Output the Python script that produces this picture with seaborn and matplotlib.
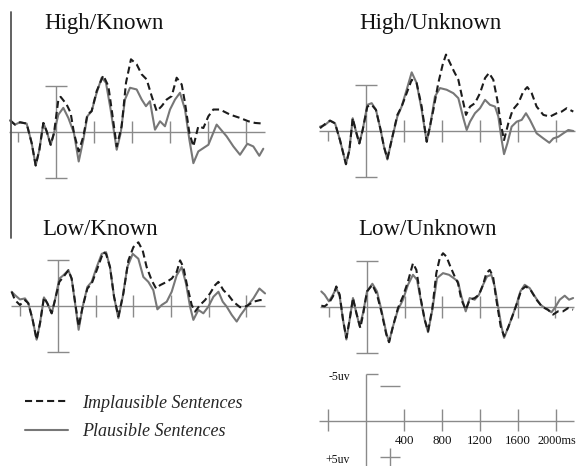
import numpy as np
import pandas as pd
import matplotlib
matplotlib.use("Agg")
import matplotlib.pyplot as plt
from matplotlib.lines import Line2D
from matplotlib.font_manager import FontProperties
import seaborn as sns

# ---------------- data (time in ms, amplitude in microvolts; negative plotted up) -------------
conditions = ["High/Known", "High/Unknown", "Low/Known", "Low/Unknown"]
series_labels = ["Implausible Sentences", "Plausible Sentences"]
scale_tick_labels = ["400", "800", "1200", "1600", "2000ms"]
scale_ticks_ms = [400, 800, 1200, 1600, 2000]

hk_pl_t = [-484, -432, -379, -309, -256, -214, -175, -133, -98, -56, -21, 25, 77, 130, 189, 239, 288, 330,
           375, 428, 481, 526, 575, 639, 681, 726, 779, 849, 902, 947, 989, 1042, 1095, 1147, 1200, 1253,
           1305, 1358, 1404, 1446, 1498, 1551, 1604, 1691, 1796, 1867, 1937, 2014, 2077, 2140, 2182]
hk_pl_v = [-1.27, -0.80, -1.05, -0.91, 1.20, 3.62, 1.92, -0.98, -0.07, 1.38, 0.11, -1.88, -2.61, -1.52,
           0.11, 3.19, 0.83, -1.70, -2.25, -4.24, -5.87, -5.33, -2.43, 1.92, 0.11, -3.51, -4.78, -4.60,
           -3.51, -2.79, -3.33, -0.25, -1.16, -0.62, -2.43, -3.51, -4.24, -2.43, 0.83, 3.37, 2.10, 1.74,
           1.38, -0.80, 0.47, 1.56, 2.46, 1.27, 1.56, 2.57, 1.81]
hk_im_t = [-484, -432, -379, -309, -256, -214, -175, -133, -98, -56, -21, 25, 49, 112, 154, 189, 239, 288,
           330, 375, 428, 498, 551, 586, 639, 691, 737, 789, 849, 902, 954, 1007, 1060, 1112, 1165, 1218,
           1270, 1323, 1358, 1404, 1446, 1498, 1551, 1604, 1656, 1726, 1832, 1937, 2025, 2095, 2182]
hk_im_v = [-1.27, -0.80, -1.05, -0.91, 1.20, 3.62, 1.92, -0.98, -0.07, 1.38, 0.11, -3.51, -3.80, -2.97,
           -2.07, 0.11, 2.10, 0.47, -1.88, -2.25, -4.42, -6.12, -4.96, -2.43, 1.56, -0.62, -5.33, -7.86,
           -7.32, -6.23, -5.69, -3.88, -2.25, -2.79, -3.51, -3.88, -5.87, -5.14, -3.15, 0.11, 1.56, -0.62,
           -0.43, -1.70, -2.43, -2.43, -1.88, -1.52, -1.16, -0.98, -0.91]

hu_pl_t = [-484, -432, -379, -326, -274, -211, -175, -140, -105, -70, -35, 14, 60, 105, 154, 189, 225, 270,
           330, 375, 428, 481, 533, 586, 639, 674, 726, 779, 849, 919, 972, 1025, 1060, 1095, 1147, 1200,
           1253, 1305, 1358, 1393, 1428, 1453, 1488, 1533, 1586, 1639, 1684, 1726, 1796, 1867, 1930, 1972,
           2025, 2077, 2130, 2182]
hu_pl_v = [-0.47, -0.65, -1.12, -0.83, 0.98, 3.59, 2.07, -1.38, 0.07, 1.34, -0.11, -2.83, -3.01, -2.28,
           -0.11, 1.70, 3.08, 0.98, -1.56, -2.64, -4.46, -6.34, -5.18, -2.28, 1.16, -0.47, -3.73, -4.64,
           -4.46, -4.09, -3.55, -1.38, -0.11, -1.01, -1.92, -2.46, -3.37, -2.83, -2.64, -1.56, 0.98, 2.50,
           1.34, -0.47, -1.01, -1.20, -1.92, -1.20, 0.25, 0.80, 1.27, 0.80, 0.62, 0.25, -0.11, 0.00]
hu_im_t = [-484, -432, -379, -326, -274, -211, -175, -140, -105, -70, -35, 14, 60, 105, 154, 189, 225, 270,
           330, 375, 428, 481, 533, 586, 639, 709, 761, 807, 842, 884, 926, 972, 1018, 1053, 1095, 1147,
           1200, 1253, 1295, 1340, 1382, 1418, 1453, 1498, 1544, 1604, 1656, 1698, 1744, 1796, 1867, 1937,
           2007, 2060, 2112, 2182]
hu_im_v = [-0.30, -0.75, -1.12, -0.83, 0.98, 3.59, 2.07, -1.38, 0.07, 1.34, -0.11, -2.64, -2.83, -2.28,
           -0.11, 1.70, 2.97, 0.98, -1.74, -2.64, -4.09, -5.54, -5.18, -2.64, 1.16, -2.28, -5.18, -7.17,
           -8.26, -7.36, -6.45, -5.54, -3.37, -1.74, -2.64, -3.01, -4.09, -5.72, -6.27, -5.54, -3.37, -0.83,
           0.98, -0.83, -2.28, -3.01, -4.28, -4.75, -4.09, -2.64, -1.74, -1.56, -1.92, -2.10, -2.46, -2.10]

lk_pl_t = [-492, -457, -404, -350, -315, -269, -227, -191, -149, -113, -67, -32, 14, 57, 110, 145, 191, 219,
           262, 312, 358, 411, 464, 510, 552, 595, 641, 687, 736, 793, 853, 906, 959, 1012, 1055, 1101,
           1154, 1207, 1260, 1313, 1359, 1402, 1437, 1490, 1543, 1596, 1650, 1703, 1749, 1791, 1844, 1897,
           1940, 2004, 2074, 2138, 2198]
lk_pl_v = [-1.54, -1.18, -0.71, -0.82, -0.29, 1.50, 3.64, 1.86, -0.93, -0.29, 0.79, -0.64, -2.96, -3.32,
           -3.86, -2.96, 0.43, 2.57, 0.07, -2.07, -2.61, -4.21, -5.64, -5.82, -4.21, -1.00, 1.32, -1.00,
           -4.21, -5.64, -5.11, -3.14, -2.61, -1.71, 0.36, -0.11, -0.46, -1.54, -3.32, -4.21, -2.43, 0.07,
           1.50, 0.43, 0.79, 0.07, -1.00, -1.54, -0.46, 0.07, 0.96, 1.68, 0.96, 0.07, -0.82, -1.89, -1.36]
lk_im_t = [-492, -457, -404, -350, -315, -269, -227, -191, -149, -113, -67, -32, 14, 57, 110, 145, 191, 219,
           262, 312, 358, 411, 481, 510, 552, 595, 641, 694, 747, 800, 853, 899, 941, 994, 1041, 1083,
           1154, 1207, 1260, 1296, 1331, 1366, 1419, 1455, 1508, 1561, 1614, 1667, 1703, 1756, 1809, 1862,
           1933, 2004, 2074, 2145, 2198]
lk_im_v = [-1.54, -0.64, -0.11, -0.64, -0.29, 1.50, 3.64, 1.86, -0.93, -0.29, 0.79, -0.64, -2.61, -3.14,
           -3.86, -2.96, 0.25, 2.21, 0.07, -1.89, -2.43, -3.86, -5.82, -5.64, -4.21, -1.00, 1.14, -1.36,
           -4.93, -6.36, -6.89, -6.00, -4.21, -2.79, -1.89, -2.25, -2.61, -2.96, -3.68, -4.93, -4.21, -2.43,
           -0.11, 0.61, -0.11, -0.64, -1.36, -2.25, -2.61, -1.71, -1.18, -0.46, 0.14, 0.00, -0.46, -0.64,
           -0.64]

lu_pl_t = [-485, -450, -404, -361, -326, -290, -255, -219, -184, -149, -113, -78, -42, 0, 57, 106, 152, 205,
           234, 276, 329, 382, 435, 488, 531, 577, 612, 648, 694, 743, 807, 871, 920, 966, 1002, 1048, 1090,
           1143, 1189, 1232, 1274, 1320, 1356, 1391, 1427, 1455, 1497, 1543, 1586, 1628, 1674, 1727, 1781,
           1841, 1904, 1958, 1993, 2046, 2099, 2145, 2188]
lu_pl_v = [-1.68, -1.33, -0.61, -1.33, -2.04, -1.15, 1.36, 3.51, 1.36, -0.97, 0.65, 2.08, 0.65, -1.68,
           -2.51, -1.68, 0.29, 2.80, 3.80, 2.08, 0.29, -0.79, -2.40, -3.48, -2.94, -0.43, 1.36, 2.72, 0.29,
           -3.12, -3.66, -3.48, -3.12, -2.76, -1.15, 0.47, -0.97, -0.79, -1.33, -2.40, -3.30, -3.48, -2.22,
           -0.07, 2.08, 3.33, 2.26, 1.00, -0.25, -1.68, -2.40, -2.04, -1.15, -0.25, 0.22, 0.57, 0.11, -0.79,
           -1.22, -0.79, -0.97]
lu_im_t = [-485, -450, -404, -361, -326, -290, -255, -219, -184, -149, -113, -71, -42, 0, 57, 106, 152, 205,
           234, 276, 329, 382, 435, 488, 524, 566, 612, 648, 694, 736, 772, 807, 843, 885, 931, 966, 1002,
           1048, 1090, 1143, 1189, 1232, 1267, 1303, 1338, 1373, 1419, 1455, 1497, 1543, 1593, 1639, 1685,
           1735, 1799, 1862, 1922, 1975, 2028, 2081, 2135, 2188]
lu_im_v = [-0.14, -0.07, -0.43, -1.15, -2.22, -1.33, 1.36, 3.33, 1.36, -0.97, 0.65, 2.26, 0.82, -1.68,
           -2.40, -1.33, 0.47, 2.97, 3.80, 2.08, 0.11, -1.15, -2.76, -4.73, -4.01, -1.15, 1.36, 2.62, 0.11,
           -3.66, -5.27, -5.81, -5.45, -4.37, -3.30, -2.58, -0.79, 0.29, -0.79, -0.97, -1.33, -2.40, -3.66,
           -4.01, -3.30, -0.79, 2.08, 3.15, 2.26, 1.00, -0.43, -1.86, -2.22, -1.86, -0.79, 0.00, 0.29, 0.82,
           0.47, 0.47, 0.11, 0.29]

# ---------------- styling ----------------
sns.set_theme(style="white")
plt.rcParams['font.family'] = ['Liberation Serif', 'DejaVu Serif']

W, H, DPI = 577, 466, 100
AX_C = "#8a8a8a"
PL_C = "#777777"
IM_C = "#1c1c1c"
DASH = (0, (3.4, 1.9))
LW = 1.5

fig = plt.figure(figsize=(W / DPI, H / DPI), dpi=DPI)
fig.patch.set_facecolor("white")


def make_axes(x0, y0, sx, sy, xlim=(-560, 2260), ylim=(-9.5, 9.5)):
    """x0,y0: pixel position of (0 ms, 0 uV); sx px/ms; sy px/uV."""
    left = x0 + xlim[0] * sx
    width = (xlim[1] - xlim[0]) * sx
    top = y0 + ylim[0] * sy
    height = (ylim[1] - ylim[0]) * sy
    ax = fig.add_axes([left / W, 1 - (top + height) / H, width / W, height / H])
    ax.set_xlim(*xlim)
    ax.set_ylim(ylim[1], ylim[0])  # negative up
    ax.axis("off")
    ax.patch.set_alpha(0)
    return ax


def draw_panel(ax, t_im, v_im, t_pl, v_pl):
    ax.hlines(0, -495, 2200, color=AX_C, lw=1.0)
    ax.vlines(scale_ticks_ms, -1.15, 1.15, color=AX_C, lw=1.0)
    ax.vlines(-400, 0, 1.1, color=AX_C, lw=1.0)
    ax.vlines(0, -5, 5, color=AX_C, lw=1.0)
    ax.hlines([-5, 5], -118, 118, color=AX_C, lw=1.0)
    df_pl = pd.DataFrame({"t": t_pl, "v": v_pl})
    df_im = pd.DataFrame({"t": t_im, "v": v_im})
    sns.lineplot(data=df_pl, x="t", y="v", ax=ax, color=PL_C, lw=LW, sort=False, estimator=None)
    sns.lineplot(data=df_im, x="t", y="v", ax=ax, color=IM_C, lw=LW, linestyle=DASH,
                 sort=False, estimator=None)
    ax.set_xlim(-560, 2260)
    ax.set_ylim(9.5, -9.5)
    ax.axis("off")


panels = [
    (conditions[0], 56, 132, 0.095, (hk_im_t, hk_im_v, hk_pl_t, hk_pl_v), (104, 29)),
    (conditions[1], 366, 131, 0.095, (hu_im_t, hu_im_v, hu_pl_t, hu_pl_v), (430, 29)),
    (conditions[2], 58, 306, 0.0942, (lk_im_t, lk_im_v, lk_pl_t, lk_pl_v), (100, 235)),
    (conditions[3], 367, 307, 0.0942, (lu_im_t, lu_im_v, lu_pl_t, lu_pl_v), (428, 235)),
]
for name, x0, y0, sx, data, (tx, ty) in panels:
    ax = make_axes(x0, y0, sx, 9.25)
    draw_panel(ax, *data)
    fig.text(tx / W, 1 - ty / H, name, ha="center", va="baseline", fontsize=16.5, color="#111111")

# left border line artefact
fig.add_artist(Line2D([11 / W, 11 / W], [1 - 12 / H, 1 - 238 / H], transform=fig.transFigure,
                      color="#555555", lw=1.3))

# ---------------- scale axes ----------------
sax = make_axes(366, 420.7, 0.095, 9.34, xlim=(-560, 2300), ylim=(-6.5, 4.85))
sax.hlines(0, -495, 2190, color=AX_C, lw=1.0)
sax.vlines([-400] + scale_ticks_ms, -1.25, 1.1, color=AX_C, lw=1.0)
sax.vlines(0, -5, 5, color=AX_C, lw=1.0, clip_on=False)
sax.hlines(-5, 0, 126, color=AX_C, lw=1.0)
sax.hlines(-3.75, 147, 358, color=AX_C, lw=1.0)
sax.hlines(3.9, 147, 358, color=AX_C, lw=1.0)
sax.vlines(253, 2.9, 5.2, color=AX_C, lw=1.0, clip_on=False)
for tk, lab in zip(scale_ticks_ms, scale_tick_labels):
    if lab.endswith("ms"):
        sax.text(tk - 190, 2.2, lab, ha="left", va="center", fontsize=8.8, color="#111111")
    else:
        sax.text(tk, 2.2, lab, ha="center", va="center", fontsize=9.3, color="#111111")
sax.text(-168, -4.7, "-5uv", ha="right", va="center", fontsize=8.5, color="#111111")
sax.text(-168, 4.2, "+5uv", ha="right", va="center", fontsize=8.5, color="#111111")

# ---------------- legend ----------------
handles = [Line2D([], [], color=IM_C, lw=LW, linestyle=DASH),
           Line2D([], [], color=PL_C, lw=LW)]
fig.legend(handles, series_labels, loc="upper left", bbox_to_anchor=(25 / W, 1 - 394.5 / H),
           frameon=False, prop=FontProperties(family="Liberation Serif", style="italic", size=13),
           handlelength=2.38, handletextpad=0.78, labelspacing=0.66, borderpad=0, borderaxespad=0)

fig.savefig("out.png", dpi=DPI, facecolor="white")
